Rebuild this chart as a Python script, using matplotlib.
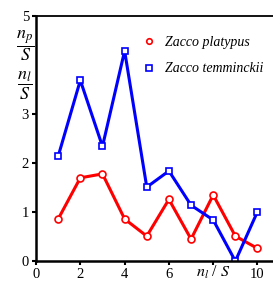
import matplotlib
matplotlib.use('Agg')
import matplotlib.pyplot as plt

# data
sites = [1, 2, 3, 4, 5, 6, 7, 8, 9, 10]
platypus = [0.86, 1.70, 1.78, 0.86, 0.51, 1.26, 0.45, 1.35, 0.51, 0.26]
temminckii = [2.14, 3.69, 2.34, 4.29, 1.51, 1.84, 1.14, 0.84, 0.0, 1.01]
xticks = [0, 2, 4, 6, 8, 10]
xticklabels = ['0', '2', '4', '6', '', '10']
yticks = [0, 1, 2, 3, 5]
yticklabels = ['0', '1', '2', '3', '5']

plt.rcParams['font.family'] = ['Liberation Serif', 'DejaVu Serif']
plt.rcParams['mathtext.fontset'] = 'stix'

fig = plt.figure(figsize=(2.73, 2.82), dpi=100)
ax = fig.add_axes([0.132, 0.074, 0.868, 0.869])

ax.plot(sites, platypus, color='red', lw=2.2, marker='o', ms=5,
        mfc='white', mec='red', mew=1.2, label='Zacco platypus')
ax.plot(sites, temminckii, color='blue', lw=2.2, marker='s', ms=5,
        mfc='white', mec='blue', mew=1.2, label='Zacco temminckii')

ax.set_xlim(0, 10.7)
ax.set_ylim(0, 5)
ax.set_xticks(xticks)
ax.set_xticklabels(xticklabels)
ax.set_yticks(yticks)
ax.set_yticklabels(yticklabels)
ax.tick_params(direction='out', length=3, width=1.5, labelsize=10.5, pad=2)

ax.spines['right'].set_visible(False)
for s in ['left', 'bottom']:
    ax.spines[s].set_linewidth(1.8)
ax.spines['top'].set_linewidth(1.3)

# axis labels placed where the 8 / 4 tick labels would be
ax.text(8, -0.05, r'$n_l$ / $S$', ha='center', va='top', fontsize=11.5,
        clip_on=False)
ax.text(-0.5, 4.4, r'$\dfrac{n_p}{S}$', ha='center', va='center', fontsize=13,
        clip_on=False)
ax.text(-0.5, 3.58, r'$\dfrac{n_l}{S}$', ha='center', va='center', fontsize=13,
        clip_on=False)

leg = ax.legend(loc='upper right', frameon=False, handlelength=0.5,
                handletextpad=0.9, prop={'style': 'italic', 'size': 10},
                borderaxespad=0.3, labelspacing=1.0,
                bbox_to_anchor=(1.0, 0.96))
for h in leg.legend_handles:
    h.set_linestyle('none')
    h.set_markersize(4)

fig.savefig('out.png', dpi=100)
